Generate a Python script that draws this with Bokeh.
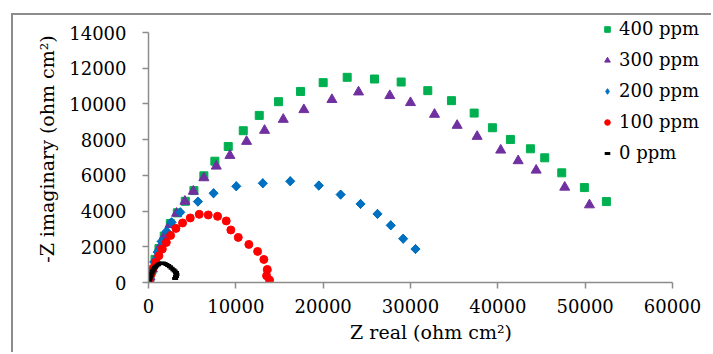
import math
from bokeh.plotting import figure
from bokeh.models import Range1d, FixedTicker, Legend, LegendItem
from bokeh.embed import file_html
from bokeh.resources import INLINE

# 400 ppm
x400 = [52430, 49910, 47320, 45370, 43730, 41440, 39380, 37290, 34690, 31980, 28930, 25880,
        22750, 20000, 17410, 14890, 12680, 10850, 9130, 7600, 6340, 5200, 4210,
        3300, 2500, 1800, 1200, 750, 400, 150, 50]
y400 = [4530, 5316, 6141, 6983, 7488, 8010, 8667, 9487, 10183, 10744, 11227, 11396,
        11490, 11193, 10700, 10127, 9357, 8500, 7617, 6793, 5973, 5148, 4547,
        3900, 3300, 2600, 1900, 1300, 700, 250, 50]
# 300 ppm
x300 = [50490, 47660, 44390, 42330, 40330, 37630, 35340, 32750, 30000, 27630, 24050,
        21000, 17790, 15430, 13290, 11230, 9320, 7760, 6340, 5130, 4170, 3216, 2450,
        1800, 1250, 800, 450, 180, 50]
y300 = [4345, 5333, 6287, 6815, 7410, 8179, 8796, 9414, 10070, 10463, 10666,
        10240, 9676, 9133, 8516, 7898, 7112, 6512, 5860, 5108, 4547, 3873, 3239,
        2600, 1950, 1300, 750, 300, 60]
# 200 ppm
x200 = [30570, 29160, 27740, 26220, 24280, 22000, 19500, 16230, 13090, 10050, 7450, 5660,
        3640, 2644, 2072, 1500, 1050, 650, 350, 130, 30]
y200 = [1874, 2453, 3200, 3840, 4400, 4923, 5428, 5670, 5557, 5389, 4997, 4530,
        3930, 3368, 2863, 2300, 1700, 1150, 650, 250, 50]
# 100 ppm
x100 = [13860, 13520, 13600, 13210, 12490, 11490, 10280, 9430, 8900, 7910, 6840, 5810,
        4780, 3900, 3140, 2530, 2040, 1580, 1190, 810, 550, 320, 126, 50]
y100 = [135, 376, 730, 1291, 1740, 2133, 2526, 2941, 3447, 3705, 3783, 3817,
        3615, 3334, 3031, 2638, 2245, 1875, 1499, 1123, 808, 472, 190, 0]
# 0 ppm
x0 = [30, 80, 150, 240, 350, 470, 600, 750, 900, 1080, 1270, 1460, 1650, 1850,
      2050, 2250, 2450, 2650, 2850, 3000, 3150, 3200, 3150, 3050]
y0 = [20, 120, 250, 380, 520, 640, 750, 850, 930, 1000, 1050, 1080, 1090, 1060,
      1010, 950, 880, 800, 720, 640, 560, 450, 330, 220]

labels = ["400 ppm", "300 ppm", "200 ppm", "100 ppm", "0 ppm"]
x_ticks = [0, 10000, 20000, 30000, 40000, 50000, 60000]
y_ticks = [0, 2000, 4000, 6000, 8000, 10000, 12000, 14000]

FONT = "DejaVu Serif"
AXIS_COLOR = "#8c8c8c"
BLUE = "#0070C0"

# canvas sits inside a thin grey chart border (CSS on the figure element)
p = figure(width=700, height=339, output_backend="svg", toolbar_location=None,
           x_range=Range1d(0, 64695), y_range=Range1d(0, 14952),
           min_border_left=135, min_border_right=0, min_border_top=0,
           min_border_bottom=72)
p.styles = {"margin-left": "11px", "margin-top": "13px",
            "border-left": "2px solid #8c8c8c", "border-top": "2px solid #8c8c8c"}
p.outline_line_color = None
p.xgrid.visible = False
p.ygrid.visible = False
p.background_fill_color = "white"
p.border_fill_color = "white"

r400 = p.scatter(x400, y400, marker="square", size=8, color="#00B050")
r300 = p.scatter(x300, y300, marker="triangle", size=10, color="#7030A0")
# diamond (used for the legend key) under a wider 45-degree square of the same points
r200 = p.scatter(x200, y200, marker="diamond", size=9, color=BLUE)
p.scatter(x200, y200, marker="square", size=6.5, angle=math.pi / 4, color=BLUE)
r100 = p.scatter(x100, y100, marker="circle", size=8, color="#FF0000")
r0 = p.scatter(x0, y0, marker="dash", size=6, line_width=3, color="black")

for ax, ticks, bnds in ((p.xaxis[0], x_ticks, (0, 60000)), (p.yaxis[0], y_ticks, (0, 14000))):
    ax.ticker = FixedTicker(ticks=ticks)
    ax.bounds = bnds
    ax.minor_tick_line_color = None
    ax.axis_line_color = AXIS_COLOR
    ax.axis_line_width = 1.5
    ax.major_tick_line_color = AXIS_COLOR
    ax.major_tick_line_width = 1.5
    ax.major_tick_in = 0
    ax.major_tick_out = 6
    ax.major_label_text_font = FONT
    ax.major_label_text_font_size = "18px"
    ax.major_label_text_color = "black"
    ax.axis_label_text_font = FONT
    ax.axis_label_text_font_size = "19px"
    ax.axis_label_text_font_style = "normal"
    ax.axis_label_text_color = "black"

p.xaxis.axis_label = "Z real (ohm cm²)"
p.yaxis.axis_label = "-Z imaginary (ohm cm²)"
p.xaxis.major_label_standoff = 10
p.xaxis.axis_label_standoff = 5
p.yaxis.major_label_standoff = 16
p.yaxis.axis_label_standoff = 8

legend = Legend(items=[LegendItem(label=l, renderers=[r]) for l, r in
                       zip(labels, [r400, r300, r200, r100, r0])],
                location=(452, 119))
legend.label_text_font = FONT
legend.label_text_font_size = "18px"
legend.label_text_color = "black"
legend.glyph_width = 14
legend.glyph_height = 20
legend.label_height = 20
legend.label_standoff = 5
legend.spacing = 10
legend.padding = 0
legend.margin = 0
legend.border_line_color = None
legend.background_fill_alpha = 0
p.add_layout(legend, "center")

open("out.html", "w").write(file_html(p, INLINE))
